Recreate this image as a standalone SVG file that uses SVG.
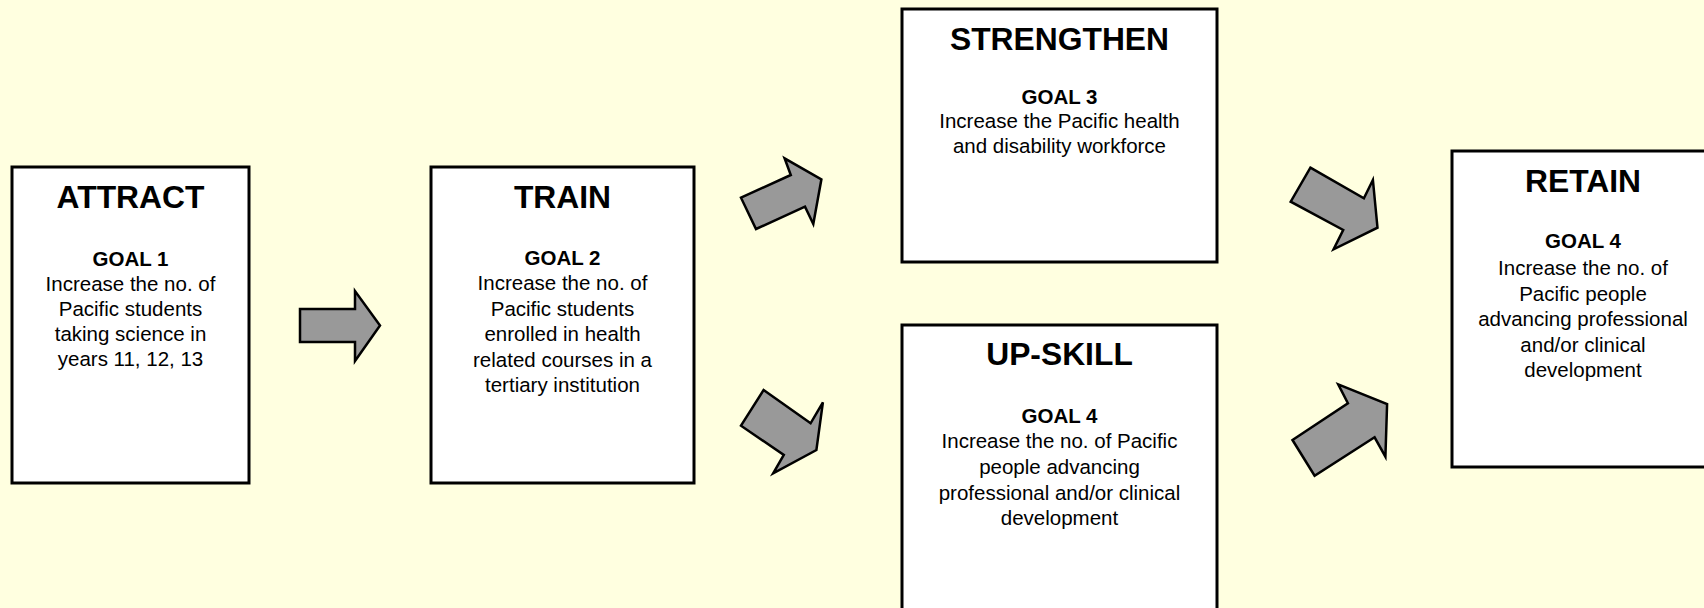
<svg xmlns="http://www.w3.org/2000/svg" width="1704" height="608" viewBox="0 0 1704 608">
<style>
.box{fill:#ffffff;stroke:#000000;stroke-width:3}
.arr{fill:#999999;stroke:#000000;stroke-width:2.5;stroke-linejoin:miter}
text{font-family:"Liberation Sans",Arial,sans-serif;fill:#000000;text-anchor:middle}
.t{font-size:31.8px;font-weight:bold}
.g{font-size:20.5px;font-weight:bold}
.b{font-size:20.5px}
</style>
<rect x="0" y="0" width="1704" height="608" fill="#ffffe0"/>
<g id="connectors">
<polygon class="arr" points="300,309 355,309 355,291 380,325.5 355,361 355,342 300,342"/>
<polygon class="arr" points="741,197.7 790.8,175 784.6,158.3 821.4,179.3 813.3,224 805,206.7 756,229"/>
<polygon class="arr" points="763.6,390 810.6,423.3 822.9,402.3 816.4,450 773.2,473.3 783.8,455 741,425.7"/>
<polygon class="arr" points="1310.4,167.7 1363.9,198.3 1372.9,180 1377.5,227.7 1333.6,249.3 1343.2,230 1290.7,201.7"/>
<polygon class="arr" points="1292.5,440 1347.9,403.3 1338.2,384.3 1387.1,404 1385.4,456.7 1374.6,437.3 1314.6,475.7"/>
</g>
<g id="attract">
<rect class="box" x="12" y="167" width="237" height="316"/>
<text class="t" x="130.5" y="208">ATTRACT</text>
<text class="g" x="130.5" y="266">GOAL 1</text>
<text class="b" x="130.5" y="291">Increase the no. of</text>
<text class="b" x="130.5" y="316">Pacific students</text>
<text class="b" x="130.5" y="341">taking science in</text>
<text class="b" x="130.5" y="366">years 11, 12, 13</text>
</g>
<g id="train">
<rect class="box" x="431" y="167" width="263" height="316"/>
<text class="t" x="562.5" y="208">TRAIN</text>
<text class="g" x="562.5" y="265">GOAL 2</text>
<text class="b" x="562.5" y="290">Increase the no. of</text>
<text class="b" x="562.5" y="315.5">Pacific students</text>
<text class="b" x="562.5" y="341">enrolled in health</text>
<text class="b" x="562.5" y="366.5">related courses in a</text>
<text class="b" x="562.5" y="392">tertiary institution</text>
</g>
<g id="strengthen">
<rect class="box" x="902" y="9" width="315" height="253"/>
<text class="t" x="1059.5" y="49.5">STRENGTHEN</text>
<text class="g" x="1059.5" y="104">GOAL 3</text>
<text class="b" x="1059.5" y="128">Increase the Pacific health</text>
<text class="b" x="1059.5" y="153">and disability workforce</text>
</g>
<g id="upskill">
<rect class="box" x="902" y="325" width="315" height="300"/>
<text class="t" x="1059.5" y="365">UP-SKILL</text>
<text class="g" x="1059.5" y="422.5">GOAL 4</text>
<text class="b" x="1059.5" y="448">Increase the no. of Pacific</text>
<text class="b" x="1059.5" y="474">people advancing</text>
<text class="b" x="1059.5" y="500">professional and/or clinical</text>
<text class="b" x="1059.5" y="525">development</text>
</g>
<g id="retain">
<rect class="box" x="1452" y="151" width="270" height="316"/>
<text class="t" x="1583" y="192">RETAIN</text>
<text class="g" x="1583" y="248">GOAL 4</text>
<text class="b" x="1583" y="275">Increase the no. of</text>
<text class="b" x="1583" y="300.5">Pacific people</text>
<text class="b" x="1583" y="326">advancing professional</text>
<text class="b" x="1583" y="351.5">and/or clinical</text>
<text class="b" x="1583" y="377">development</text>
</g>
</svg>
